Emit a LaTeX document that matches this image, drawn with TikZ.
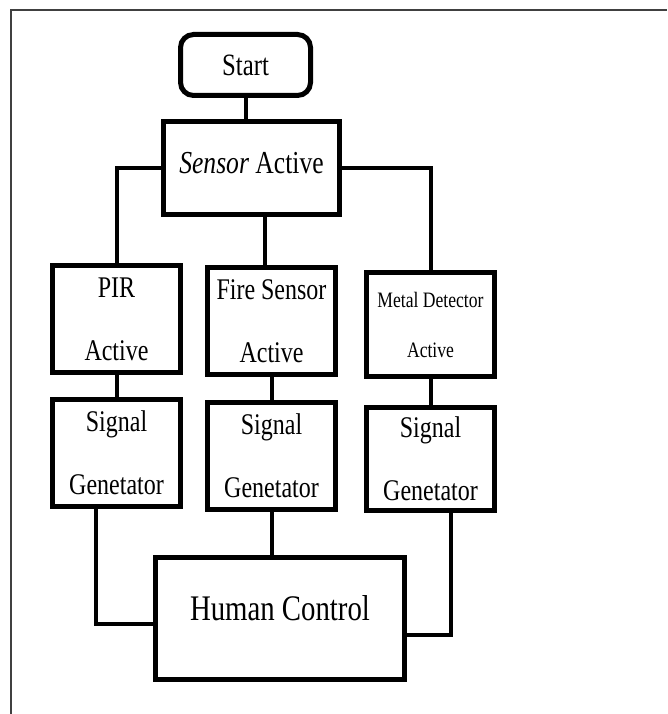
\documentclass[tikz,border=0pt]{standalone}
\usepackage{fontspec}
\setmainfont{Liberation Serif}[FakeStretch=0.8]

\begin{document}
\begin{tikzpicture}[x=1pt, y=-1pt,
    box/.style={draw, line width=5pt, inner sep=0pt, align=center,
                minimum width=128pt, minimum height=107pt,
                font=\fontsize{30}{63}\selectfont},
    link/.style={line width=4pt}]

    \useasboundingbox (0,0) rectangle (667,714);

    % Page frame
    \draw[black!75, line width=2.5pt] (11,714) -- (11,10) -- (667,10);

    % Top
    \node[draw, line width=5pt, rounded corners=13pt, minimum width=130pt,
          minimum height=61pt, font=\fontsize{31}{36}\selectfont] (start) at (245.5,65) {Start};
    \node[box, minimum width=176pt, minimum height=93pt, text depth=10pt,
          font=\fontsize{32}{36}\selectfont] (sensor) at (251.5,168) {\textit{Sensor} Active};

    % Sensor row
    \node[box] (pir) at (116.5,319) {PIR\\Active};
    \node[box] (fire) at (271.5,321) {Fire Sensor\\Active};
    \node[box, minimum height=104pt, font=\fontsize{22}{50}\selectfont] (metal) at (430.5,324.5) {Metal Detector\\Active};

    % Signal row
    \node[box] (sg1) at (116.5,453) {Signal\\Genetator};
    \node[box] (sg2) at (271.5,456) {Signal\\Genetator};
    \node[box, minimum height=103pt] (sg3) at (430.5,459) {Signal\\Genetator};

    % Bottom
    \node[box, minimum width=249pt, minimum height=122pt, text depth=20pt,
          font=\fontsize{36}{40}\selectfont] (human) at (280,618.5) {Human Control};

    % Edges
    \draw[link] (start) -- (start |- sensor.north);
    \draw[link] (sensor.west) -| (pir.north);
    \draw[link] (sensor.east) -| (metal.north);
    \draw[link] ([xshift=-6.5pt]fire.north) -- ([xshift=-6.5pt]fire.north |- sensor.south);
    \draw[link] (pir) -- (sg1);
    \draw[link] (fire) -- (sg2);
    \draw[link] (metal) -- (sg3);
    \draw[link] ([xshift=-20.5pt]sg1.south) |- ([yshift=-5.5pt]human.west);
    \draw[link] (sg2.south) -- (sg2.south |- human.north);
    \draw[link] ([xshift=20.5pt]sg3.south) |- ([yshift=-16.5pt]human.east);

\end{tikzpicture}
\end{document}
